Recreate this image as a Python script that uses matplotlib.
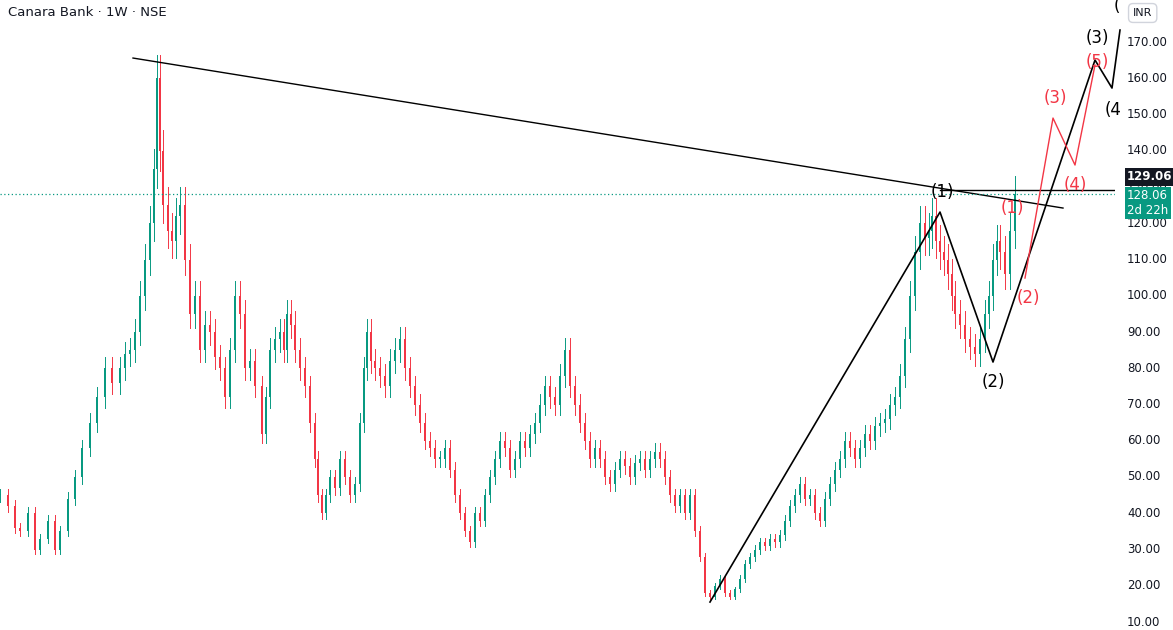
import matplotlib
matplotlib.use("Agg")
import matplotlib.pyplot as plt
from matplotlib.patches import Rectangle

# x positions (chart pixel-columns as time index) and weekly closes
xs = [0,8,15,20,28,35,40,48,55,60,68,75,82,90,97,105,112,120,125,130,135,140,145,150,154,157,160,163,168,172,176,180,185,190,195,200,205,210,215,220,225,230,235,240,245,250,255,262,266,270,275,280,284,287,291,295,300,305,310,315,318,322,326,330,335,340,345,350,355,360,364,367,371,375,380,385,390,395,400,405,410,415,420,425,430,435,440,445,450,455,460,465,470,475,480,485,490,495,500,505,510,515,520,525,530,535,540,545,550,555,560,565,570,575,580,585,590,595,600,605,610,615,620,625,630,635,640,645,650,655,660,665,670,675,680,685,690,695,700,705,710,715,720,725,730,735,740,745,750,755,760,765,770,775,780,785,790,795,800,805,810,815,820,825,830,835,840,845,850,855,860,865,870,875,880,885,890,895,900,905,910,915,920,925,929,932,936,940,944,948,952,955,960,965,970,975,980,985,989,993,997,1000,1005,1010,1015,1020,1025,1030,1033]
closes = [45,42,36,35,40,30,33,38,30,35,44,50,58,65,72,80,76,80,84,85,90,100,110,120,135,160,140,125,118,115,122,125,110,95,100,85,92,90,83,80,72,85,100,95,80,82,75,62,72,85,88,90,85,95,92,85,80,75,65,55,45,40,45,50,47,55,50,45,48,65,80,90,82,80,78,75,82,85,88,80,75,70,65,60,58,55,55,58,52,45,40,35,32,40,38,45,50,55,60,58,52,55,60,58,62,65,70,75,72,70,78,85,75,70,65,60,55,58,55,50,48,52,55,53,50,54,55,52,55,57,55,50,45,42,45,40,45,35,28,18,17,20,22,18,17,19,22,26,28,30,32,31,33,32,34,38,42,45,48,44,45,40,38,44,48,52,55,60,58,55,58,62,60,64,65,66,70,72,78,88,100,112,120,116,118,122,115,112,110,106,100,95,92,88,86,84,88,95,100,110,115,112,106,118,128]

up_c, dn_c = "#089981", "#f23645"
ymin, ymax = 7.8, 181.6

def p(y):  # pixel row -> price
    return 170 - (y - 42) / 3.625

fig = plt.figure(figsize=(11.73, 6.3), dpi=100)
ax = fig.add_axes([0, 0, 1115/1173, 1])
ax.set_xlim(0, 1115); ax.set_ylim(ymin, ymax)
ax.set_xticks([]); ax.set_yticks([])
for s in ax.spines.values(): s.set_visible(False)

prev = closes[0]
for x, c in zip(xs, closes):
    o = prev
    hi = max(o, c) * 1.04; lo = min(o, c) * 0.96
    col = up_c if c >= o else dn_c
    ax.plot([x, x], [lo, hi], color=col, lw=0.7)
    ax.add_patch(Rectangle((x - 1.2, min(o, c)), 2.4, max(abs(c - o), 0.4), color=col, lw=0))
    prev = c

# trendline and guides
ax.plot([133, 1063], [p(58), p(208)], color="black", lw=1)
ax.axhline(128.06, color=up_c, ls=(0, (1, 2)), lw=0.9)
ax.plot([940, 1115], [129.06, 129.06], color="black", lw=1)
bx = [710, 940, 993, 1095, 1112, 1120]; by = [p(602), p(212), p(362), p(60), p(88), p(30)]
ax.plot(bx, by, color="black", lw=1.2, clip_on=False)
rx = [1025, 1053, 1075, 1095]; ry = [p(278), p(118), p(165), p(65)]
ax.plot(rx, ry, color=dn_c, lw=1)
for t, x, y in [("(1)", 942, 192), ("(2)", 993, 382), ("(3)", 1097, 38), ("(4", 1113, 110), ("(", 1117, 6)]:
    ax.text(x, p(y), t, color="black", fontsize=12, ha="center", va="center", clip_on=False)
for t, x, y in [("(1)", 1012, 208), ("(2)", 1028, 298), ("(3)", 1055, 98), ("(4)", 1075, 185), ("(5)", 1097, 62)]:
    ax.text(x, p(y), t, color=dn_c, fontsize=12, ha="center", va="center")

fig.text(8/1173, 1 - 12/630, "Canara Bank · 1W · NSE", fontsize=9.5, va="center", color="#131722")

# price scale
for v in range(10, 171, 10):
    fig.text(1127/1173, 1 - (42 + (170 - v) * 3.625) / 630, f"{v}.00", fontsize=8.5, va="center", color="#131722")
fig.text(1133/1173, 1 - 13/630, "INR", fontsize=8, va="center", color="#131722",
         bbox=dict(boxstyle="round,pad=0.4", fc="white", ec="#d1d4dc"))
fig.text(1127/1173, 1 - 177/630, "129.06", fontsize=8.5, va="center", color="white", weight="bold",
         bbox=dict(boxstyle="square,pad=0.2", fc="#131722", ec="none"))
fig.text(1127/1173, 1 - 203/630, "128.06\n2d 22h", fontsize=8.5, va="center", color="white",
         linespacing=1.15, bbox=dict(boxstyle="square,pad=0.2", fc=up_c, ec="none"))
fig.savefig("out.png", dpi=100)
